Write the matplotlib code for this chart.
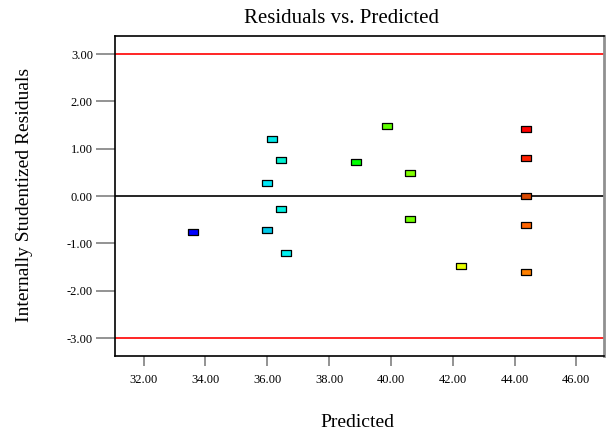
import matplotlib.pyplot as plt

plt.rcParams['font.family'] = ['Liberation Serif', 'DejaVu Serif']

# predicted values and internally studentized residuals
predicted = [33.60, 36.14, 36.46, 36.00, 36.45, 35.98, 36.61,
             38.88, 39.86, 40.63, 40.61, 42.28,
             44.37, 44.37, 44.37, 44.37, 44.37]
residuals = [-0.76, 1.21, 0.76, 0.27, -0.27, -0.72, -1.21,
             0.72, 1.48, 0.49, -0.49, -1.48,
             1.41, 0.80, 0.00, -0.61, -1.61]
colors = ['#0000ff', '#00e8e8', '#00f0d0', '#00e8f8', '#00f0e0', '#00c8e8', '#00f0f0',
          '#00ff00', '#60ff00', '#80ff00', '#70ff00', '#e8ff00',
          '#ff0000', '#ff2000', '#d84800', '#ff6400', '#ff8000']

x_ticks = [32, 34, 36, 38, 40, 42, 44, 46]
y_ticks = [-3, -2, -1, 0, 1, 2, 3]
limit = 3.0

fig = plt.figure(figsize=(6.06, 4.30), dpi=100)
ax = fig.add_axes([0.19, 0.172, 0.807, 0.744])

ax.axhline(limit, color='red', lw=1.2, zorder=1)
ax.axhline(-limit, color='red', lw=1.2, zorder=1)
ax.axhline(0, color='black', lw=1.2, zorder=1)

rect = [(-1, -0.6), (1, -0.6), (1, 0.6), (-1, 0.6), (-1, -0.6)]
for x, y, c in zip(predicted, residuals, colors):
    ax.plot(x, y, marker=rect, ms=7.5, mfc=c, mec='black', mew=0.9,
            ls='none', zorder=3)

ax.set_xlim(31.08, 46.9)
ax.set_ylim(-3.38, 3.38)
ax.set_xticks(x_ticks)
ax.set_xticklabels([f'{v:.2f}' for v in x_ticks])
ax.set_yticks(y_ticks)
ax.set_yticklabels([f'{v:.2f}' for v in y_ticks])

ax.tick_params(axis='x', length=7, width=1.2, color='#808080', labelsize=9, pad=6)
ax.tick_params(axis='y', length=14, width=1.2, color='#808080', labelsize=9, pad=2)
for lbl_v, t in zip(y_ticks, ax.yaxis.get_major_ticks()):
    if abs(lbl_v) == 3 or lbl_v == 0:
        t.tick1line.set_color('black')

for s in ['left', 'top', 'bottom']:
    ax.spines[s].set_linewidth(1.2)
ax.spines['right'].set_color('#909090')
ax.spines['right'].set_linewidth(2)

fig.text(0.589, 0.018, 'Predicted', fontsize=14, ha='center', va='center')
fig.text(0.041, 0.547, 'Internally Studentized Residuals', fontsize=14,
         ha='center', va='center', rotation=90)
fig.text(0.563, 0.958, 'Residuals vs. Predicted', fontsize=15, ha='center', va='center')

fig.savefig('out.png', dpi=100)
